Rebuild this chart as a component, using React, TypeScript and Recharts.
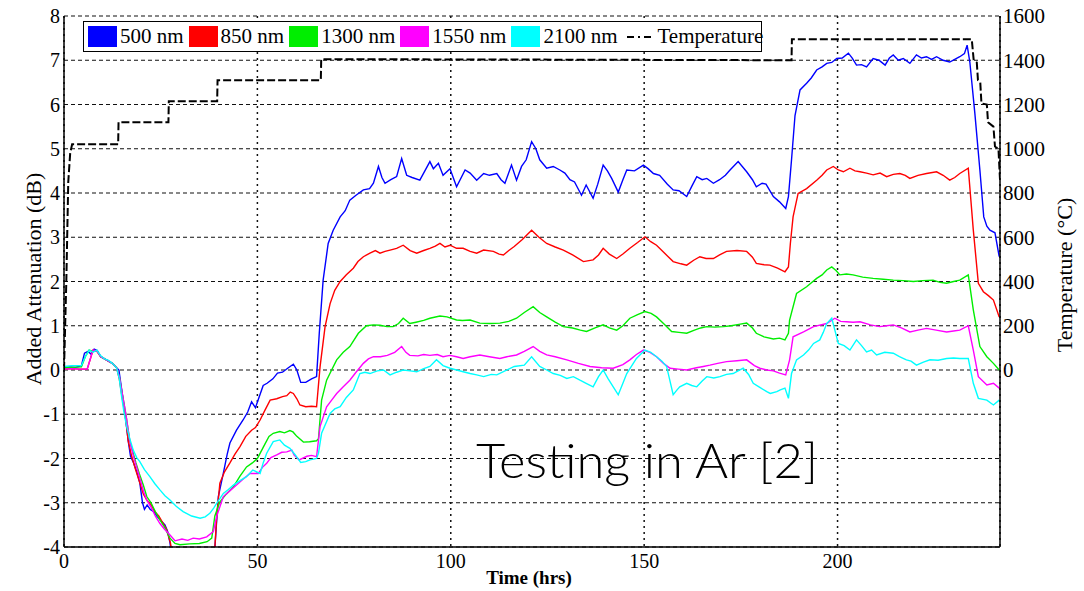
import { LineChart, Line, XAxis, YAxis, CartesianGrid } from 'recharts'

type Pt = [number, number]

const timeTicks = [0, 50, 100, 150, 200]
const attenTicks = [-4, -3, -2, -1, 0, 1, 2, 3, 4, 5, 6, 7, 8]
const tempTicks = [0, 200, 400, 600, 800, 1000, 1200, 1400, 1600]

// added attenuation (dB) vs time (hrs)
const nm500: Pt[] = [
  [0, 0.05], [1.5, 0.07], [3, 0.06], [4.5, 0.1], [5.3, 0.38], [6.2, 0.42], [7, 0.36], [7.8, 0.47], [8.6, 0.44],
  [9.5, 0.3], [10.5, 0.25], [11.5, 0.2], [12.5, 0.15], [13.6, 0.05], [14.2, 0], [15, -0.5], [15.8, -1], [16.6, -1.6],
  [17.2, -1.95], [18, -2.1], [18.8, -2.3], [19.6, -2.55], [20.3, -3], [20.8, -3.15], [21.5, -3.05], [22.3, -3.15],
  [23.2, -3.2], [24, -3.3], [25, -3.4], [26.1, -3.5], [26.8, -3.65], [27.4, -3.9], [28, -4.3], [38.8, -4.3],
  [39.4, -3.5], [39.9, -2.86], [41.2, -2.33], [42.2, -1.9], [42.9, -1.65], [44.6, -1.36], [46.3, -1.13], [47.5, -0.95],
  [48.5, -0.72], [49.5, -0.85], [50.3, -0.65], [51.5, -0.35], [52.5, -0.3], [54, -0.2], [55.2, -0.07], [56.5, -0.05],
  [58, 0.05], [59.3, 0.13], [60.2, 0], [61.2, -0.28], [62.5, -0.28], [64, -0.2], [65.3, -0.15], [66, 0.83], [67, 2.03],
  [68.3, 2.86], [69.6, 3.16], [71.4, 3.46], [72.7, 3.6], [73.9, 3.84], [75.5, 3.95], [77.4, 4.07], [79, 4.1], [80, 4.22],
  [81.3, 4.6], [82.2, 4.35], [83, 4.22], [84.5, 4.3], [86, 4.37], [87.3, 4.78], [88.6, 4.4], [90, 4.35], [92, 4.29],
  [93.3, 4.5], [94.6, 4.71], [95.5, 4.55], [96.8, 4.67], [98, 4.4], [99.8, 4.55], [101.5, 4.14], [103.7, 4.52],
  [105, 4.45], [106.7, 4.29], [108.5, 4.44], [110, 4.4], [111.9, 4.44], [113, 4.3], [114, 4.22], [115.7, 4.63],
  [117, 4.29], [118.3, 4.6], [119.5, 4.75], [120.9, 5.16], [122, 5], [123, 4.75], [124.8, 4.56], [126.5, 4.6],
  [128.2, 4.52], [129.5, 4.45], [130.8, 4.3], [132, 4.25], [133.8, 3.95], [135, 4.18], [136.8, 3.88], [138, 4.2],
  [139.4, 4.63], [140.5, 4.5], [141.6, 4.33], [143.3, 4.02], [144.5, 4.3], [145.5, 4.52], [147.5, 4.5], [149.8, 4.63],
  [151, 4.55], [152.4, 4.44], [154, 4.4], [156, 4.2], [157.5, 4.07], [159, 4.05], [161, 3.92], [162.3, 4.15],
  [163.6, 4.37], [165, 4.3], [166.2, 4.33], [167.9, 4.22], [169.5, 4.3], [171, 4.4], [172.2, 4.52], [174.3, 4.71],
  [176.5, 4.48], [178, 4.3], [179, 4.14], [180.5, 4.22], [181.5, 4.2], [183.4, 3.92], [185, 3.8], [186.6, 3.65],
  [187.3, 3.92], [188.1, 4.75], [189, 5.75], [190.3, 6.33], [192, 6.48], [193.2, 6.6], [194.6, 6.78], [196, 6.85],
  [197.2, 6.93], [198.5, 6.95], [199.8, 7.04], [201.2, 7.05], [202.8, 7.16], [203.8, 7.05], [204.9, 6.89], [206.2, 6.9],
  [207.5, 6.85], [209.2, 7.04], [210.7, 7], [212.3, 6.89], [213.4, 7.05], [214.4, 7.12], [215.7, 7], [217, 7.04],
  [218.7, 6.93], [220.4, 7.12], [221.7, 7.05], [223, 7.08], [224.3, 7.02], [225.6, 7.08], [227.3, 7], [229, 6.96],
  [230.3, 7.02], [231.6, 7.08], [232.8, 7.15], [233.5, 7.34], [234.2, 6.96], [235.5, 5.8], [236.8, 4.52], [237.8, 3.46],
  [238.6, 3.25], [239.4, 3.16], [240.7, 3.1], [241.8, 2.56],
]

const nm850: Pt[] = [
  [0, 0.02], [2, 0.03], [4, 0.02], [6, 0.02], [6.8, 0.25], [7.5, 0.45], [8.5, 0.42], [9.5, 0.3], [10.5, 0.25],
  [11.5, 0.2], [12.5, 0.15], [13.6, 0.05], [14.3, -0.2], [15, -0.6], [15.8, -1], [16.6, -1.6], [17.5, -1.95],
  [18.5, -2.25], [19.6, -2.55], [20.5, -2.8], [21.5, -2.95], [22.5, -3.05], [23.5, -3.2], [24.5, -3.3], [25.5, -3.45],
  [26.5, -3.6], [27.5, -3.9], [28.3, -4.3], [38.8, -4.3], [39.5, -3.3], [40.3, -2.56], [41.5, -2.3], [42.9, -2.1],
  [44.2, -1.9], [45.5, -1.73], [47, -1.5], [48.5, -1.36], [49.5, -1.3], [50.7, -1.13], [52, -0.9], [53.3, -0.68],
  [55, -0.65], [56.5, -0.6], [57.6, -0.58], [58.5, -0.5], [59.3, -0.53], [60.2, -0.65], [61, -0.79], [62.5, -0.83],
  [64, -0.82], [65.3, -0.83], [66.2, 0.07], [67.5, 0.98], [68.8, 1.5], [70, 1.8], [71.4, 2], [73, 2.15], [74.8, 2.3],
  [76, 2.45], [77.4, 2.56], [79.1, 2.64], [80.5, 2.7], [81.7, 2.64], [83, 2.68], [84.3, 2.71], [86, 2.75], [87.7, 2.82],
  [89.5, 2.7], [91.2, 2.64], [93, 2.7], [94.6, 2.75], [96, 2.8], [97.2, 2.86], [98.5, 2.78], [99.8, 2.82], [101.5, 2.75],
  [103.2, 2.75], [105, 2.68], [106.7, 2.64], [108.5, 2.71], [111, 2.68], [112.5, 2.62], [113.6, 2.6], [115, 2.7],
  [116.4, 2.79], [118.5, 2.95], [120.9, 3.16], [122.8, 3], [124.8, 2.86], [127, 2.78], [129.1, 2.71], [131.5, 2.6],
  [134.3, 2.45], [136.8, 2.49], [138.2, 2.6], [139.4, 2.75], [141, 2.62], [142.9, 2.52], [144.5, 2.62], [146.3, 2.75],
  [148.3, 2.88], [150.2, 3.01], [151.7, 2.9], [153.2, 2.82], [155.5, 2.62], [157.5, 2.45], [159.5, 2.4], [161, 2.37],
  [162.8, 2.48], [164.4, 2.56], [166, 2.52], [167.9, 2.52], [169.5, 2.6], [171.3, 2.68], [174, 2.7], [176.5, 2.68],
  [178, 2.55], [179, 2.41], [181, 2.38], [182.5, 2.37], [184.5, 2.3], [186.4, 2.22], [187.3, 2.33], [187.8, 2.86],
  [188.5, 3.46], [189.8, 3.99], [192, 4.1], [194.6, 4.29], [196, 4.4], [197.2, 4.52], [198.9, 4.6], [200.2, 4.52],
  [201.5, 4.48], [203.2, 4.56], [204.5, 4.5], [205.8, 4.48], [207.5, 4.45], [209.2, 4.41], [211, 4.45], [212.7, 4.37],
  [214.4, 4.42], [216.1, 4.44], [217.5, 4.4], [218.7, 4.33], [220.8, 4.4], [223, 4.44], [225.6, 4.48], [227.3, 4.4],
  [229, 4.29], [230.3, 4.35], [231.6, 4.44], [233.8, 4.56], [235.1, 3.16], [236.4, 1.96], [237.7, 1.77], [239, 1.68],
  [240.3, 1.58], [241.8, 1.2],
]

const nm1300: Pt[] = [
  [0, 0.05], [2, 0.06], [4.5, 0.07], [5.5, 0.3], [6.5, 0.45], [7.5, 0.42], [8.5, 0.44], [9.5, 0.3], [10.5, 0.25],
  [11.5, 0.2], [12.5, 0.15], [13.6, 0.05], [14.3, -0.15], [15, -0.5], [16, -1], [17, -1.6], [17.8, -1.85], [18.6, -2.1],
  [19.5, -2.35], [20.5, -2.6], [21.4, -2.86], [22.5, -3], [23.6, -3.2], [24.8, -3.39], [26, -3.55], [27.4, -3.8],
  [28.7, -3.92], [30, -3.95], [32.5, -3.93], [35, -3.92], [37, -3.88], [38.2, -3.8], [39, -3.3], [40.3, -2.98],
  [42, -2.8], [43.8, -2.64], [45.5, -2.4], [47.2, -2.19], [48.7, -2.1], [50, -2], [51.5, -1.75], [53, -1.5],
  [54.1, -1.43], [55.8, -1.39], [57, -1.42], [58.4, -1.37], [59.2, -1.4], [60.2, -1.5], [61.9, -1.63], [63.5, -1.62],
  [65.3, -1.6], [65.8, -1.55], [66.6, -0.68], [67.9, -0.23], [69.2, 0], [70.5, 0.23], [72.2, 0.4], [73.9, 0.53],
  [76.1, 0.83], [78.2, 1], [80, 1.02], [81.7, 1.01], [83.5, 0.98], [85.1, 0.98], [86.5, 1.05], [87.7, 1.17],
  [89.4, 1.05], [91, 1.08], [93, 1.12], [94.6, 1.17], [97.2, 1.22], [99, 1.2], [101.5, 1.13], [103, 1.12], [105, 1.13],
  [107.5, 1.06], [110.1, 1.05], [112.7, 1.06], [115, 1.1], [117, 1.17], [119, 1.3], [121.3, 1.43], [123, 1.3],
  [124.8, 1.2], [127, 1.08], [129.1, 0.98], [131.5, 0.95], [133.5, 0.9], [135.1, 0.87], [137.3, 0.95], [139.4, 1.02],
  [141, 0.95], [142.9, 0.9], [144.5, 1], [146.3, 1.17], [148.3, 1.25], [150.2, 1.32], [151.8, 1.28], [153.2, 1.2],
  [155, 1.05], [157.1, 0.87], [159, 0.85], [161, 0.83], [163, 0.9], [164.6, 0.95], [166.2, 0.98], [168.3, 0.97],
  [170.5, 0.98], [172.5, 1], [174.5, 1.03], [176.5, 1.06], [178, 0.95], [179, 0.83], [181, 0.75], [183.4, 0.7],
  [185, 0.72], [186.4, 0.68], [187.3, 0.83], [187.6, 1.13], [189.4, 1.73], [192, 1.88], [194.6, 2.07], [196, 2.15],
  [197.2, 2.26], [198.5, 2.33], [199.6, 2.25], [200.6, 2.15], [202.3, 2.17], [204, 2.15], [206.5, 2.1], [209.2, 2.07],
  [211.8, 2.05], [214.4, 2.03], [217, 2.02], [219.6, 2], [222, 2.02], [224.7, 2.03], [226.5, 1.98], [228.2, 1.96],
  [230, 2], [231.6, 2.03], [233.8, 2.15], [235.1, 1.36], [236.8, 0.53], [238.6, 0.3], [240.3, 0.15], [241.8, 0],
]

const nm1550: Pt[] = [
  [0, 0.02], [2, 0.03], [4, 0.02], [6, 0.02], [6.8, 0.25], [7.5, 0.45], [8.5, 0.43], [9.5, 0.3], [10.5, 0.25],
  [11.5, 0.2], [12.5, 0.15], [13.6, 0.05], [14.3, -0.15], [15, -0.5], [16, -1], [17, -1.6], [17.8, -1.9], [18.8, -2.2],
  [19.8, -2.5], [20.6, -2.75], [21.4, -2.94], [22.5, -3.1], [23.6, -3.3], [24.8, -3.47], [26, -3.6], [27.4, -3.73],
  [28.7, -3.86], [30.5, -3.82], [32, -3.85], [33.4, -3.8], [35, -3.82], [36.9, -3.77], [38.6, -3.65], [39.5, -3.3],
  [41.2, -2.86], [43, -2.72], [44.6, -2.6], [46.5, -2.45], [48.1, -2.34], [50.2, -2.34], [51.3, -2.2], [52.4, -2.11],
  [53.5, -1.98], [55, -1.92], [56.3, -1.86], [57.6, -1.85], [58.9, -1.81], [59.5, -1.92], [60.8, -2.03], [62.8, -1.95],
  [64, -1.93], [65.3, -1.96], [66.2, -1.28], [67.9, -0.83], [69.2, -0.68], [70.5, -0.53], [72.2, -0.38], [73.9, -0.23],
  [75.5, -0.05], [77.4, 0.15], [78.7, 0.25], [80, 0.3], [81.8, 0.3], [83.6, 0.33], [85.5, 0.4], [87.3, 0.53],
  [88.4, 0.4], [89.4, 0.33], [91.5, 0.32], [93, 0.35], [94.6, 0.33], [96.5, 0.35], [98, 0.3], [99.8, 0.33],
  [101.5, 0.3], [103.2, 0.26], [105, 0.3], [107.5, 0.34], [110, 0.3], [112.7, 0.26], [114.5, 0.3], [117, 0.34],
  [119, 0.42], [121.3, 0.53], [123, 0.42], [124.8, 0.34], [127, 0.3], [130, 0.23], [133, 0.15], [136, 0.08],
  [139, 0.05], [142, 0.04], [144.5, 0.12], [146.3, 0.23], [148, 0.35], [149.8, 0.45], [151.5, 0.4], [153.2, 0.3],
  [155, 0.15], [156.7, 0.04], [158.8, 0.02], [161, 0], [163.5, 0.05], [165.3, 0.08], [167, 0.11], [169, 0.15],
  [171.3, 0.19], [174, 0.21], [176.5, 0.23], [178.5, 0.1], [179.9, 0.04], [181.7, 0], [183.4, -0.02], [185, -0.07],
  [186.6, -0.11], [187.6, 0.23], [188.5, 0.75], [191.2, 0.86], [193.8, 0.98], [197.2, 1.05], [199.3, 1.17],
  [200.8, 1.1], [202.3, 1.09], [204, 1.08], [205.8, 1.09], [208.5, 1.02], [210.9, 0.98], [212.7, 1], [214.4, 1.02],
  [216.5, 0.95], [218.7, 0.86], [220.8, 0.9], [223, 0.94], [225.5, 0.9], [228.2, 0.86], [230, 0.88], [231.6, 0.9],
  [233.8, 1], [235.1, 0.45], [236.4, -0.15], [238.6, -0.34], [240.3, -0.3], [241.8, -0.41],
]

const nm2100: Pt[] = [
  [0, 0.08], [2, 0.1], [4.5, 0.1], [5.5, 0.3], [6.5, 0.45], [7.5, 0.4], [8.5, 0.45], [9.5, 0.32], [10.5, 0.25],
  [11.5, 0.22], [12.5, 0.15], [13.6, 0.05], [14.3, -0.2], [14.9, -0.6], [15.5, -0.95], [16.2, -1.28], [17, -1.55],
  [17.9, -1.81], [18.8, -1.98], [19.6, -2.07], [20.8, -2.25], [22.2, -2.41], [23.5, -2.57], [24.8, -2.71],
  [26.1, -2.84], [27.4, -2.94], [29, -3.08], [30.8, -3.2], [33, -3.3], [35.2, -3.35], [36.5, -3.32], [37.7, -3.24],
  [38.7, -3.12], [39.5, -3.01], [41.2, -2.79], [42.5, -2.7], [43.8, -2.6], [45.5, -2.5], [47.2, -2.41], [48.8, -2.26],
  [50.7, -2.34], [51.5, -2.1], [52.4, -1.88], [54.1, -1.62], [55.8, -1.58], [57, -1.7], [58.4, -1.77], [59.8, -1.92],
  [61.2, -2.09], [62.5, -2.07], [63.6, -2.03], [65.3, -2], [65.8, -1.88], [66.6, -1.43], [68.8, -0.98], [70, -0.88],
  [71.4, -0.83], [73, -0.62], [74.8, -0.45], [76.5, -0.08], [77.8, -0.05], [79.1, -0.08], [81, -0.02], [82.6, 0],
  [84.3, -0.11], [86, -0.05], [87.7, 0], [89.5, -0.02], [91.2, -0.04], [93, 0.03], [94.6, 0.08], [96.3, 0.23],
  [98, 0.1], [99.8, 0.04], [101.5, 0], [103.2, -0.04], [105, -0.08], [106.7, -0.11], [108.5, -0.15], [110.5, -0.1],
  [111.9, -0.11], [114, -0.02], [116.4, 0.08], [119, 0.11], [120.9, 0.3], [123, 0.08], [124.8, 0], [126.5, -0.08],
  [128.3, -0.12], [130, -0.19], [131.7, -0.15], [133.4, -0.23], [135, -0.3], [136.8, -0.38], [138.2, -0.15],
  [139.4, 0], [140.7, -0.2], [142, -0.38], [143.3, -0.56], [144.5, -0.3], [145.5, -0.08], [148, 0.26], [150.2, 0.45],
  [151.7, 0.4], [153.2, 0.3], [154.6, 0.2], [155.8, 0.08], [157.5, -0.56], [158.5, -0.45], [159.2, -0.38], [161, -0.3],
  [162.3, -0.35], [163.6, -0.38], [165, -0.25], [166.2, -0.15], [168, -0.18], [169.6, -0.15], [171.3, -0.1],
  [173, -0.08], [175.6, 0.04], [177, -0.1], [178.2, -0.3], [180, -0.4], [181.7, -0.49], [182.6, -0.53], [184.3, -0.49],
  [185.2, -0.45], [186.4, -0.41], [187.3, -0.64], [188.1, -0.08], [189.4, 0.23], [191.2, 0.34], [192.5, 0.45],
  [193.8, 0.6], [195.4, 0.68], [196.3, 0.85], [197.2, 1.05], [198.5, 1.17], [199.3, 0.9], [200.2, 0.6], [201.7, 0.55],
  [203.2, 0.45], [204.9, 0.68], [206.2, 0.55], [207.5, 0.41], [208.8, 0.45], [210.1, 0.34], [212.2, 0.4],
  [214.4, 0.38], [216, 0.3], [217.8, 0.23], [219, 0.2], [220.4, 0.11], [222.2, 0.18], [223.9, 0.23], [226, 0.22],
  [228.2, 0.26], [230, 0.27], [231.6, 0.26], [233.8, 0.26], [235.1, -0.3], [236.4, -0.64], [238.6, -0.68],
  [240.3, -0.79], [241.8, -0.68],
]

// furnace temperature (°C), right axis
const temperature: Pt[] = [
  [0, 0], [0.6, 400], [1.1, 850], [1.6, 980], [2.1, 1020], [14, 1020], [14.1, 1120], [27, 1120], [27.1, 1215],
  [39.6, 1215], [39.7, 1310], [66.4, 1310], [66.5, 1405], [120, 1403], [188.1, 1400], [188.2, 1495], [234.7, 1495],
  [235.2, 1400], [236, 1390], [236.3, 1310], [236.9, 1300], [237.2, 1205], [238.6, 1200], [238.9, 1120],
  [240.3, 1100], [240.7, 1010], [241.6, 1000], [242, 860],
]

const series = [
  { name: '500 nm', color: '#0000ff', points: nm500 },
  { name: '850 nm', color: '#ff0000', points: nm850 },
  { name: '1300 nm', color: '#00ee00', points: nm1300 },
  { name: '1550 nm', color: '#ff00ff', points: nm1550 },
  { name: '2100 nm', color: '#00ffff', points: nm2100 },
]

const serif = '"Liberation Serif", "Times New Roman", serif'
const toRows = (pts: Pt[]) => pts.map(([t, v]) => ({ t, v }))

function LegendBox() {
  return (
    <div
      style={{
        position: 'absolute', left: 83, top: 21, width: 679, height: 31, boxSizing: 'border-box',
        border: '1px solid #000', background: '#fff', display: 'flex', alignItems: 'center',
        paddingLeft: 4, fontFamily: serif, fontSize: 21, whiteSpace: 'nowrap', color: '#000',
      }}
    >
      {series.map((s) => (
        <span key={s.name} style={{ display: 'flex', alignItems: 'center', marginRight: 5 }}>
          <span style={{ width: 29, height: 21, background: s.color, marginRight: 3 }} />
          {s.name}
        </span>
      ))}
      <span style={{ display: 'flex', alignItems: 'center', marginLeft: 5 }}>
        <svg width={28} height={6} style={{ marginRight: 2 }}>
          <line x1={0} y1={3} x2={27} y2={3} stroke="#000" strokeWidth={2} strokeDasharray="7 4 2 4" />
        </svg>
        Temperature
      </span>
    </div>
  )
}

export default function App() {
  const tick = { fontFamily: serif, fontSize: 20, fill: '#000' }
  return (
    <div style={{ position: 'absolute', left: 0, top: 0, width: 1084, height: 591, background: '#fff' }}>
      <LineChart width={1084} height={591} margin={{ top: 16, right: 0, bottom: 0, left: 0 }}>
        <CartesianGrid vertical={false} stroke="#111" strokeWidth={1.2} strokeDasharray="4 3" />
        <CartesianGrid horizontal={false} stroke="#111" strokeWidth={1.5} strokeDasharray="2 4" />
        <XAxis
          dataKey="t" type="number" domain={[0, 242]} ticks={timeTicks} allowDataOverflow
          height={44} tickLine={false} tickSize={4} tickMargin={3} tick={tick}
          axisLine={{ stroke: '#000', strokeWidth: 1.5 }}
        />
        <XAxis
          xAxisId="top" orientation="top" dataKey="t" type="number" domain={[0, 242]} allowDataOverflow
          height={0} tick={false} tickLine={false} axisLine={{ stroke: '#000', strokeWidth: 1.5 }}
        />
        <YAxis
          type="number" domain={[-4, 8]} ticks={attenTicks} allowDataOverflow width={64}
          tickLine={false} tickSize={2} tickMargin={2} tick={tick}
          axisLine={{ stroke: '#000', strokeWidth: 1.5 }}
        />
        <YAxis
          yAxisId="right" orientation="right" type="number" domain={[-800, 1600]} ticks={tempTicks}
          allowDataOverflow width={84} tickLine={false} tickSize={2} tickMargin={1}
          tick={{ ...tick, fontSize: 21 }} axisLine={{ stroke: '#000', strokeWidth: 1.5 }}
        />
        {series.map((s) => (
          <Line
            key={s.name} data={toRows(s.points)} dataKey="v" name={s.name} type="linear"
            stroke={s.color} strokeWidth={1.4} dot={false} isAnimationActive={false}
          />
        ))}
        <Line
          yAxisId="right" data={toRows(temperature)} dataKey="v" name="Temperature" type="linear"
          stroke="#000" strokeWidth={2} strokeDasharray="8 3" dot={false} isAnimationActive={false}
        />
      </LineChart>
      <svg width={1084} height={591} style={{ position: 'absolute', left: 0, top: 0, pointerEvents: 'none' }}>
        <text x={529} y={584} textAnchor="middle" fontFamily={serif} fontSize={19} fontWeight="bold">Time (hrs)</text>
        <text
          x={33} y={279} transform="rotate(-90 33 279)" textAnchor="middle" dominantBaseline="central"
          fontFamily={serif} fontSize={22}
        >
          Added Attenuation (dB)
        </text>
        <text
          x={1064} y={275} transform="rotate(-90 1064 275)" textAnchor="middle" dominantBaseline="central"
          fontFamily={serif} fontSize={22}
        >
          Temperature (°C)
        </text>
        <text
          x={476} y={478} fontFamily="Lato, 'Open Sans', sans-serif" fontWeight={300} fontSize={48}
          textLength={342} lengthAdjust="spacingAndGlyphs" fill="#000"
        >
          Testing in Ar [2]
        </text>
      </svg>
      <LegendBox />
    </div>
  )
}
